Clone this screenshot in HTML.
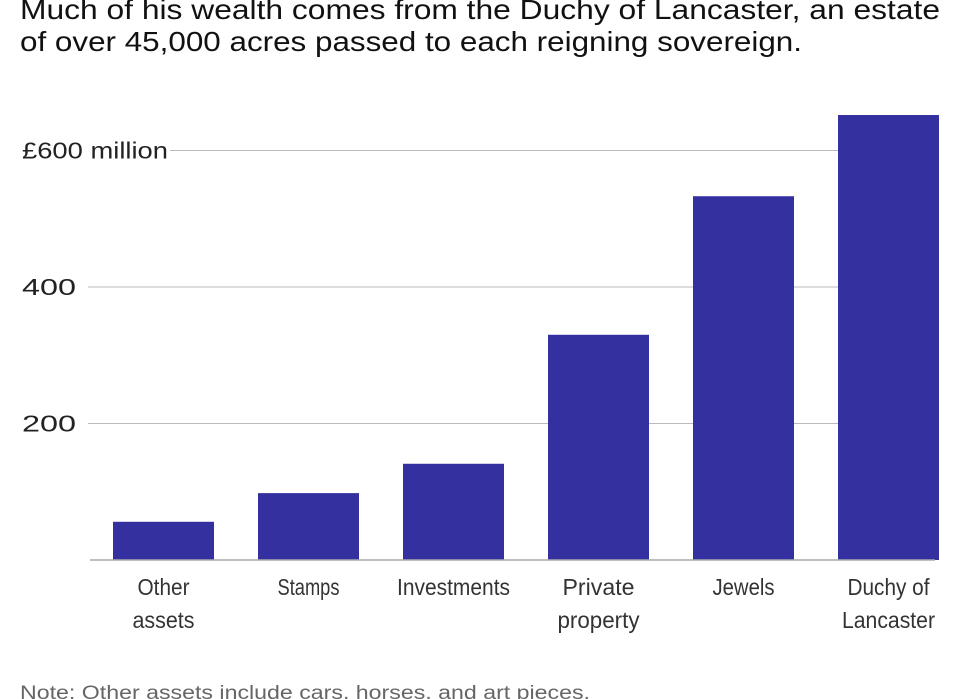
<!DOCTYPE html>
<html><head><meta charset="utf-8"><style>
html,body{margin:0;padding:0;background:#fff;}
svg{display:block;font-family:"Liberation Sans",sans-serif;}
</style></head><body>
<svg id="chart" width="980" height="699" viewBox="0 0 980 699" xmlns="http://www.w3.org/2000/svg">
<text x="20" y="19" font-size="28" fill="#111" textLength="920" lengthAdjust="spacingAndGlyphs">Much of his wealth comes from the Duchy of Lancaster, an estate</text>
<text x="20" y="51" font-size="28" fill="#111" textLength="782" lengthAdjust="spacingAndGlyphs">of over 45,000 acres passed to each reigning sovereign.</text>
<g id="grid"></g>
<g id="bars"></g>
<g id="xlabels"></g>
<text x="20" y="699" font-size="19" fill="#666" textLength="570" lengthAdjust="spacingAndGlyphs">Note: Other assets include cars, horses, and art pieces.</text>
</svg>
<script>
const categories = [["Other","assets"],["Stamps"],["Investments"],["Private","property"],["Jewels"],["Duchy of","Lancaster"]];
const values = [56, 98, 141, 330, 533, 652];
const tickValues = [200, 400, 600];
const tickLabels = ["200", "400", "£600 million"];

const NS = "http://www.w3.org/2000/svg";
const y0 = 560, pxPerUnit = 136.5/200;
const yScale = v => y0 - v*pxPerUnit;
const plotLeft = 90, plotRight = 935, step = 145, firstX = 113, barW = 101;
const xScale = i => firstX + i*step;

const grid = document.getElementById('grid');
tickValues.forEach((t,i)=>{
  const y = yScale(t);
  const lab = document.createElementNS(NS,'text');
  
  
  lab.setAttribute('x', 22); lab.setAttribute('y', y+8);
  lab.setAttribute('font-size', 23); lab.setAttribute('fill', '#222');
  lab.textContent = tickLabels[i];
  if (tickLabels[i].length > 4) { lab.setAttribute('textLength', 146); lab.setAttribute('lengthAdjust','spacingAndGlyphs'); }
  else { lab.setAttribute('textLength', 54); lab.setAttribute('lengthAdjust','spacingAndGlyphs'); }
  grid.appendChild(lab);
  const ln = document.createElementNS(NS,'line');
  
  
  ln.setAttribute('x1', tickLabels[i].length > 4 ? 170 : 88); ln.setAttribute('x2', plotRight);
  ln.setAttribute('y1', y); ln.setAttribute('y2', y);
  ln.setAttribute('stroke', '#bbb'); ln.setAttribute('stroke-width', 1);
  grid.appendChild(ln);
});

const bars = document.getElementById('bars');
values.forEach((v,i)=>{
  const r = document.createElementNS(NS,'rect');
  
  
  r.setAttribute('x', xScale(i)); r.setAttribute('width', barW);
  r.setAttribute('y', yScale(v)); r.setAttribute('height', y0 - yScale(v));
  r.setAttribute('fill', '#3430a0');
  bars.appendChild(r);
});
const base = document.createElementNS(NS,'line');


base.setAttribute('x1', plotLeft); base.setAttribute('x2', plotRight);
base.setAttribute('y1', y0); base.setAttribute('y2', y0);
base.setAttribute('stroke', '#aaa'); base.setAttribute('stroke-width', 1.5);
bars.appendChild(base);

const xl = document.getElementById('xlabels');
categories.forEach((lines,i)=>{
  lines.forEach((s,j)=>{
    const t = document.createElementNS(NS,'text');
    
    
    t.setAttribute('x', xScale(i)+barW/2); t.setAttribute('y', 595 + j*33);
    t.setAttribute('text-anchor', 'middle'); t.setAttribute('font-size', 23);
    t.setAttribute('fill', '#333');
    t.setAttribute('textLength', Math.round(s.length*10.3)); t.setAttribute('lengthAdjust','spacingAndGlyphs');
    t.textContent = s;
    xl.appendChild(t);
  });
});
</script>
</body></html>
